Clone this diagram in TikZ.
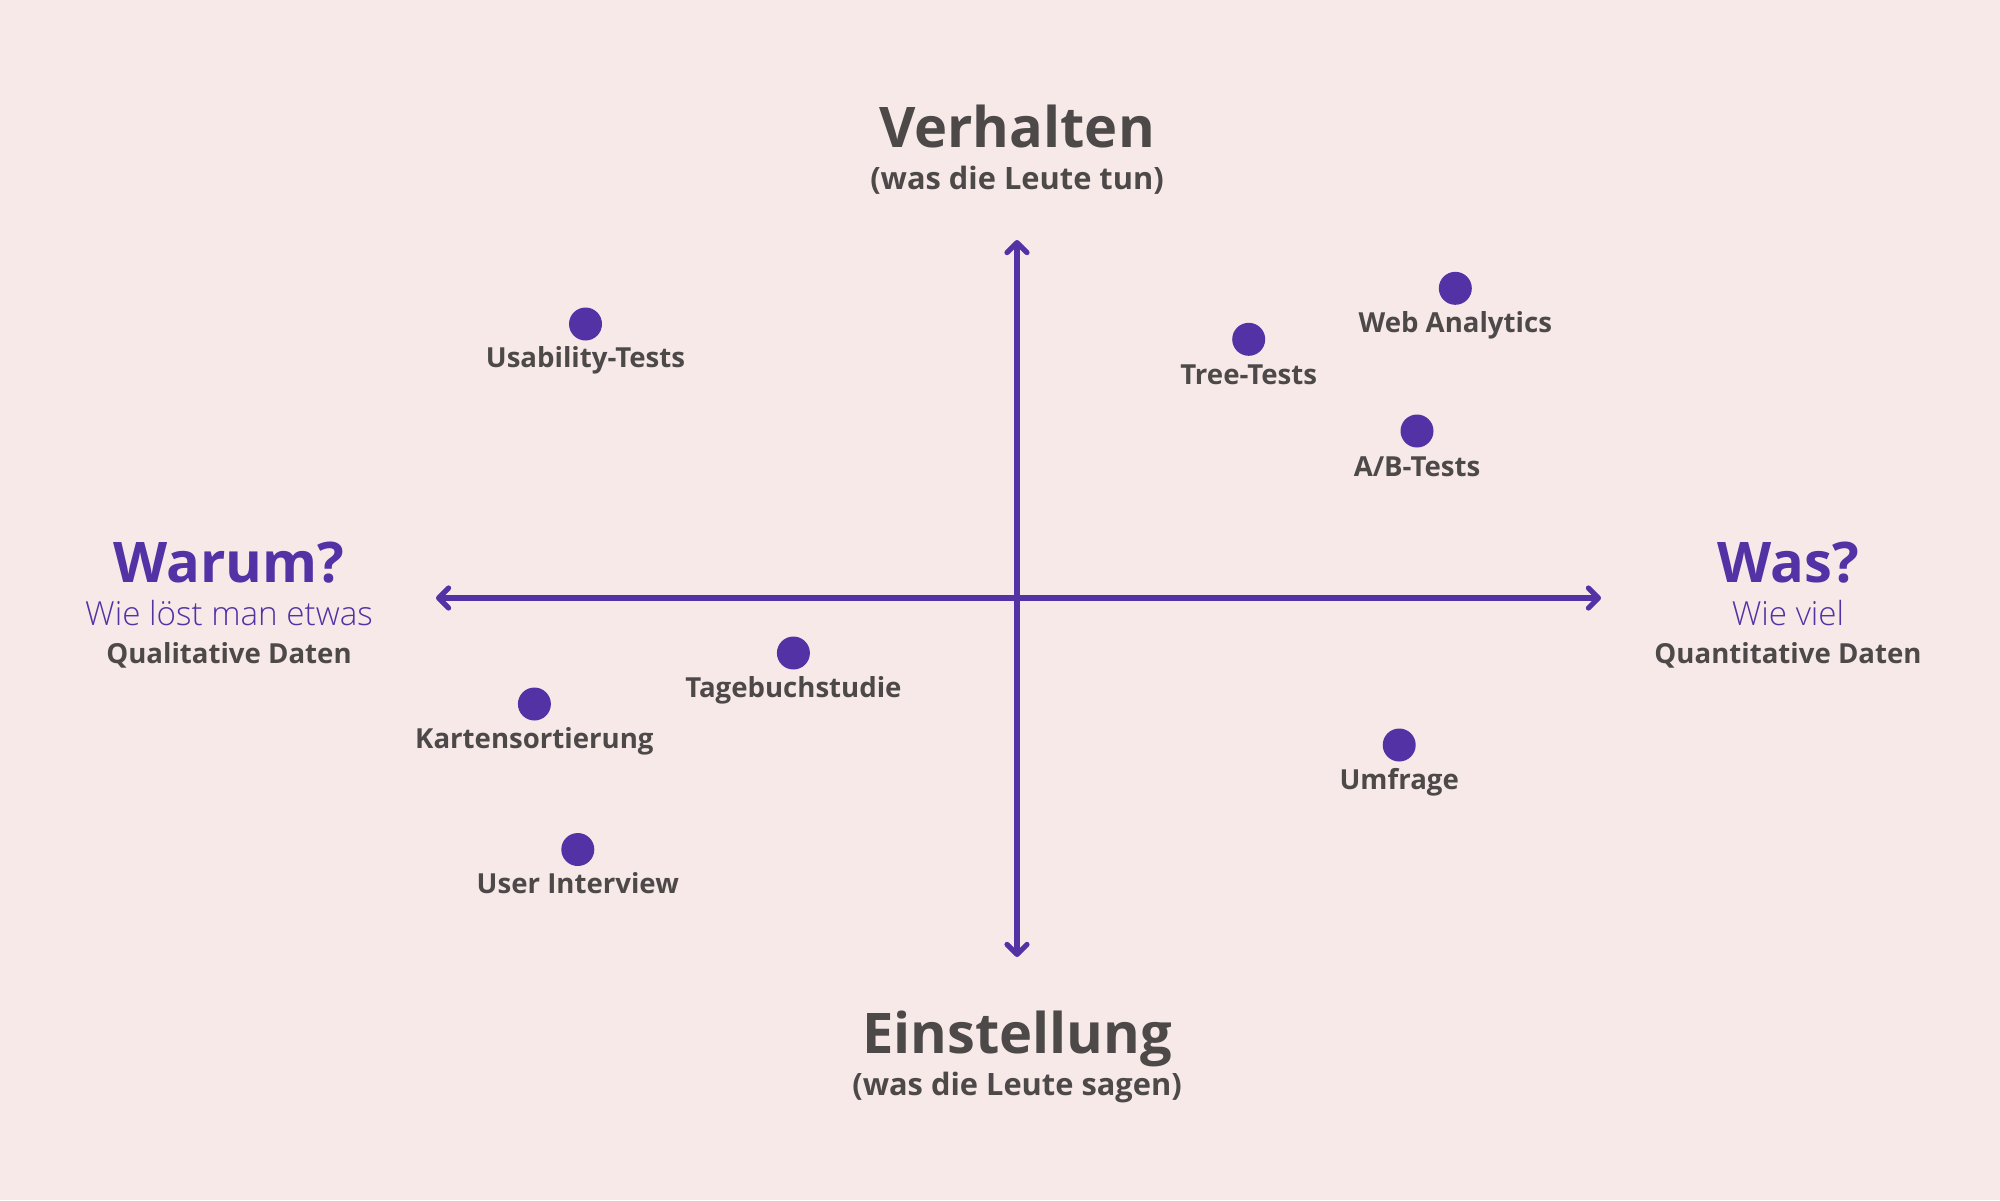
\documentclass[tikz,border=0pt]{standalone}
\usepackage{fontspec}
\setmainfont{Open Sans}
\IfFontExistsTF{Open Sans Light}{\newfontfamily\oslight{Open Sans Light}}{\newcommand\oslight{\mdseries}}
\usetikzlibrary{arrows.meta}
\definecolor{bgpink}{HTML}{F8E9E9}
\definecolor{axpurple}{HTML}{5232A5}
\definecolor{txtgray}{HTML}{4D4949}
\tikzset{
  axisline/.style={draw=axpurple, line width=2.6pt, line cap=round,
    arrows={Straight Barb[length=5pt,width=10pt,round]-Straight Barb[length=5pt,width=10pt,round]}},
  dotnode/.style={circle, fill=axpurple, minimum size=16.5pt, inner sep=0pt},
  dotlabel/.style={anchor=base, text=txtgray, font=\fontsize{13.8}{16}\selectfont\bfseries, inner sep=0pt},
  bigtitle/.style={anchor=base, text=txtgray, font=\fontsize{28}{32}\selectfont\bfseries, inner sep=0pt},
  subtitle/.style={anchor=base, text=txtgray, font=\fontsize{15.4}{18}\selectfont\bfseries, inner sep=0pt},
  sidetitle/.style={anchor=base, text=axpurple, font=\fontsize{28}{32}\selectfont\bfseries, inner sep=0pt},
  sidesub/.style={anchor=base, text=axpurple, font=\oslight\fontsize{16.6}{19}\selectfont, inner sep=0pt},
  sidebold/.style={anchor=base, text=txtgray, font=\fontsize{13.8}{16}\selectfont\bfseries, inner sep=0pt},
}
\begin{document}
\begin{tikzpicture}[x=0.5pt, y=-0.5pt]
\fill[bgpink] (0,0) rectangle (2000,1200);
\useasboundingbox (0,0) rectangle (2000,1200);

% axes
\coordinate (top) at (1017,240);
\coordinate (bottom) at (1017,957);
\coordinate (left) at (436,598);
\coordinate (right) at (1601,598);
\draw[axisline] (bottom) -- (top);
\draw[axisline] (left) -- (right);

% titles
\node[bigtitle] (verhalten) at (1017,147) {Verhalten};
\node[subtitle] (verhaltensub) at (1017,189) {(was die Leute tun)};
\node[bigtitle] (einstellung) at (1017,1053) {Einstellung};
\node[subtitle] (einstellungsub) at (1017,1095) {(was die Leute sagen)};

\node[sidetitle] (warum) at (229,582) {Warum?};
\node[sidesub] (warumsub) at (229,625) {Wie löst man etwas};
\node[sidebold] (qual) at (229,663) {Qualitative Daten};

\node[sidetitle] (was) at (1788,582) {Was?};
\node[sidesub] (wassub) at (1788,625) {Wie viel};
\node[sidebold] (quant) at (1788,663) {Quantitative Daten};

% points
\node[dotnode] (usab) at (585.5,324) {};
\node[dotlabel] (usabl) at (585.5,367) {Usability-Tests};

\node[dotnode] (tree) at (1248.7,339.3) {};
\node[dotlabel] (treel) at (1248.7,384) {Tree-Tests};

\node[dotnode] (web) at (1455.3,288.3) {};
\node[dotlabel] (webl) at (1455.3,332) {Web Analytics};

\node[dotnode] (ab) at (1417,431) {};
\node[dotlabel] (abl) at (1417,476) {A/B-Tests};

\node[dotnode] (tage) at (793.4,653) {};
\node[dotlabel] (tagel) at (793.4,697) {Tagebuchstudie};

\node[dotnode] (karten) at (534.4,704) {};
\node[dotlabel] (kartenl) at (534.4,748) {Kartensortierung};

\node[dotnode] (user) at (577.8,849.5) {};
\node[dotlabel] (userl) at (577.8,893) {User Interview};

\node[dotnode] (umfrage) at (1399.2,745) {};
\node[dotlabel] (umfragel) at (1399.2,789) {Umfrage};
\end{tikzpicture}
\end{document}
